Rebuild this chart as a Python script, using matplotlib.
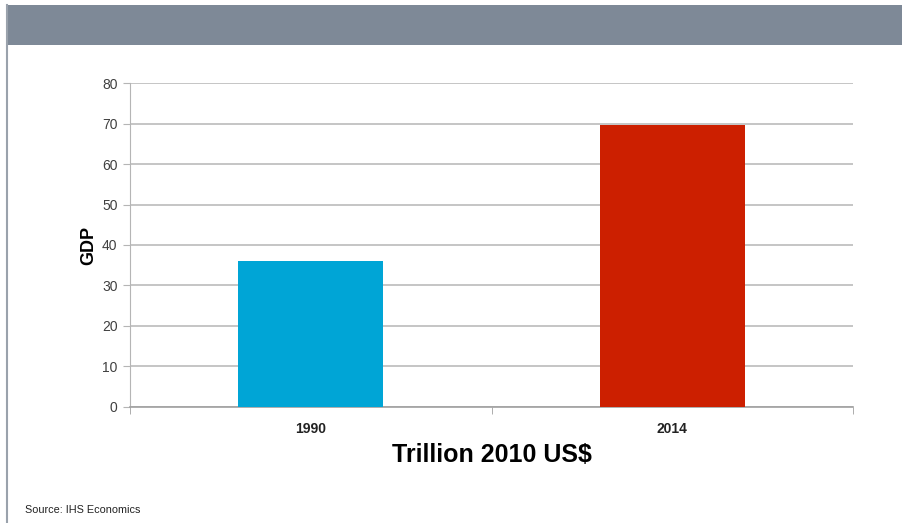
import numpy as np
import matplotlib.pyplot as plt
from matplotlib.patches import Rectangle
from matplotlib.lines import Line2D

# data
years = ["1990", "2014"]
gdp = [36.0, 69.7]
bar_colors = ["#00a5d6", "#cc1f00"]
y_ticks = [0, 10, 20, 30, 40, 50, 60, 70, 80]

plt.rcParams['font.family'] = ['Liberation Sans', 'DejaVu Sans']

fig = plt.figure(figsize=(9.02, 5.23), dpi=100)
fig.patch.set_facecolor("white")

# slide header band and left edge
fig.patches.append(Rectangle((7 / 902, 1 - 45 / 523), 1 - 7 / 902, 40 / 523,
                             transform=fig.transFigure, facecolor="#7e8997",
                             edgecolor="none", zorder=0))
fig.lines.append(Line2D([7.5 / 902, 7.5 / 902], [0, 1 - 5 / 523],
                        transform=fig.transFigure, color="#9aa2ac", lw=1.5))

ax = fig.add_axes([130 / 902, 116.3 / 523, 723 / 902, 323.4 / 523])
x = np.arange(len(years))
ax.bar(x, gdp, width=0.4, color=bar_colors, zorder=3)

ax.set_xlim(-0.5, 1.5)
ax.set_ylim(0, 80)
ax.set_yticks(y_ticks)
ax.yaxis.grid(True, color="#b5b5b5", lw=1.1)
ax.set_axisbelow(True)

for s in ["top", "right"]:
    ax.spines[s].set_visible(False)
ax.spines["left"].set_color("#b5b5b5")
ax.spines["bottom"].set_color("#a0a0a0")
ax.spines["bottom"].set_linewidth(1.2)

ax.tick_params(axis="y", colors="#b5b5b5", labelcolor="#404040",
               labelsize=10, length=5, pad=4)
ax.set_xticks(x)
ax.set_xticklabels(years, fontweight="bold", fontsize=10, color="#222222")
ax.tick_params(axis="x", length=0, pad=11)
ax.set_xticks([-0.5, 0.5, 1.5], minor=True)
ax.tick_params(axis="x", which="minor", length=5, color="#a0a0a0")

ax.set_ylabel("GDP", fontweight="bold", fontsize=13, labelpad=3)
ax.set_xlabel("Trillion 2010 US$", fontweight="bold", fontsize=18, labelpad=5)

fig.text(25 / 902, 1 - 510 / 523, "Source: IHS Economics", fontsize=7.8,
         color="#222222", va="center", ha="left")

fig.savefig("out.png", dpi=100)
